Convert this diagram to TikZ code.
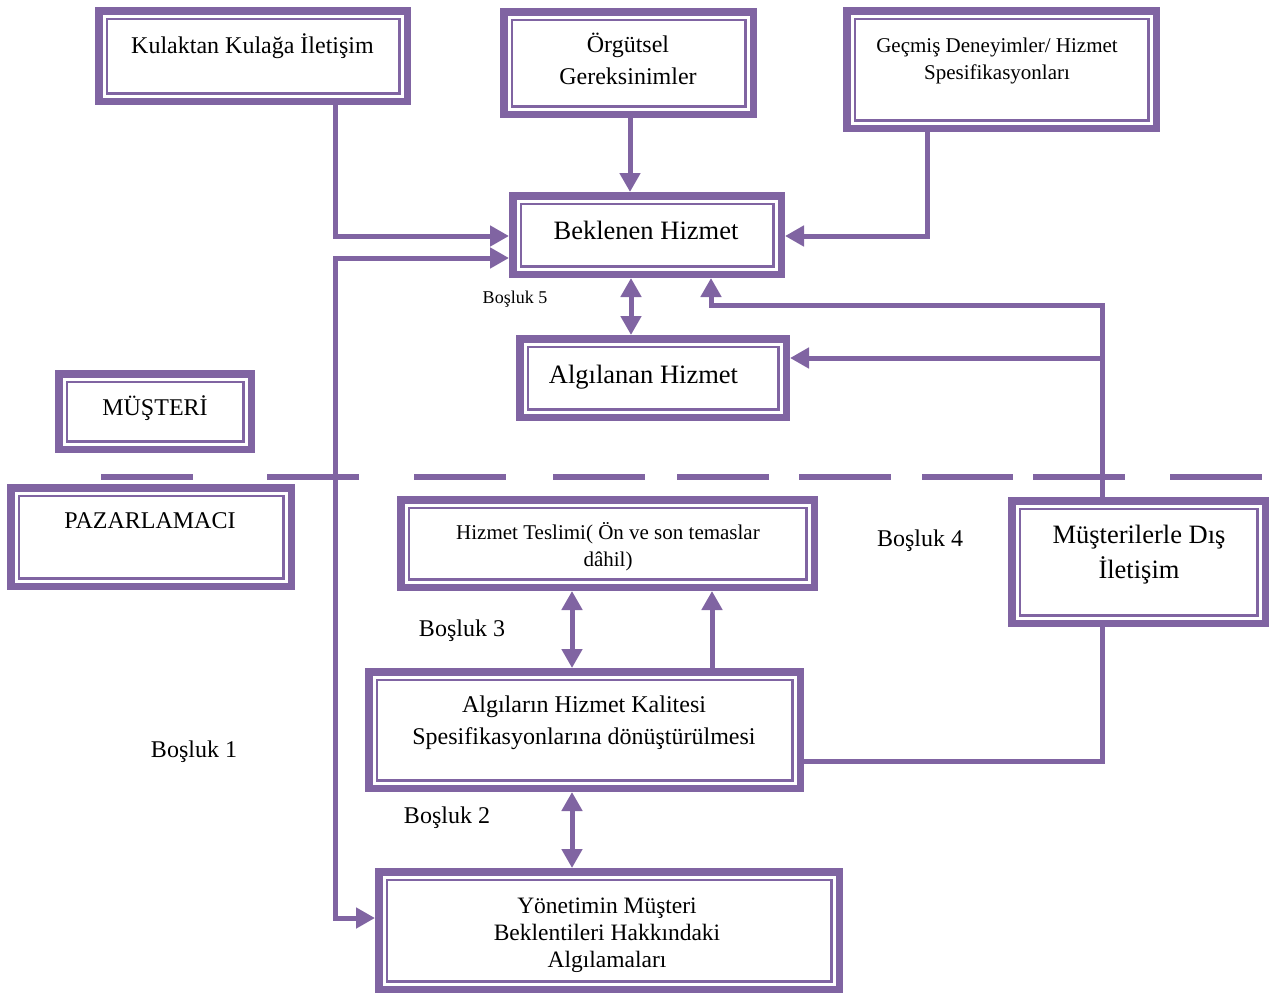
\documentclass[tikz,border=0pt]{standalone}
\usepackage{fontspec}
\setmainfont{Liberation Serif}
\usetikzlibrary{arrows.meta}
\definecolor{vio}{RGB}{128,100,162}

% framed box: thick outer rule, white gap, thin inner rule
\newcommand\boxnode[5]{%
  \node[framebox, minimum width={#4-#2-7.5}, minimum height={#5-#3-7.5}]
    (#1) at ({(#2+#4)/2},{(#3+#5)/2}) {};}

\begin{document}
\begin{tikzpicture}[x=1pt,y=-1pt,
  framebox/.style={draw=vio, line width=7.5pt, inner sep=0pt, fill=white,
    path picture={\draw[vio, line width=2.5pt]
      ([shift={(8pt,8pt)}]path picture bounding box.south west) rectangle
      ([shift={(-8pt,-8pt)}]path picture bounding box.north east);}},
  % multi-line texts are placed by the baseline of their last line
  txt/.style={align=center, anchor=base, inner sep=0pt, text=black,
    font=\fontsize{24}{32}\selectfont},
  conn/.style={draw=vio, line width=5pt},
  ah/.tip={Triangle[width=20pt,length=19pt]},
  dashseg/.style={draw=vio, line width=6.5pt},
]
\useasboundingbox (0,0) rectangle (1272,994);

% boxes
\boxnode{b1}{95}{7}{411}{105}
\boxnode{b2}{500}{8}{757}{118}
\boxnode{b3}{843}{7}{1160}{132}
\boxnode{b4}{509}{192}{785}{278}
\boxnode{b5}{516}{335}{790}{421}
\boxnode{b6}{55}{370}{255}{453}
\boxnode{b7}{7}{484}{295}{590}
\boxnode{b8}{397}{496}{818}{591}
\boxnode{b9}{1008}{497}{1269}{627}
\boxnode{b10}{365}{668}{804}{792}
\boxnode{b11}{375}{868}{843}{993}

% texts
\node[txt] (t1) at (252.5,53) {Kulaktan Kulağa İletişim};
\node[txt] (t2) at (628,84) {Örgütsel\\Gereksinimler};
\node[txt, font=\fontsize{21}{27}\selectfont] (t3) at (997,79) {Geçmiş Deneyimler/ Hizmet\\Spesifikasyonları};
\node[txt, font=\fontsize{26.5}{32}\selectfont] (t4) at (646,239) {Beklenen Hizmet};
\node[txt, font=\fontsize{26.5}{32}\selectfont] (t5) at (643.5,383) {Algılanan Hizmet};
\node[txt] (t6) at (155,415) {MÜŞTERİ};
\node[txt] (t7) at (150,528) {PAZARLAMACI};
\node[txt, font=\fontsize{21}{27}\selectfont] (t8) at (608,566) {Hizmet Teslimi( Ön ve son temaslar\\dâhil)};
\node[txt, font=\fontsize{26.5}{35}\selectfont] (t9) at (1139,578) {Müşterilerle Dış\\İletişim};
\node[txt, font=\fontsize{24}{32.5}\selectfont] (t10) at (584,744.5) {Algıların Hizmet Kalitesi\\Spesifikasyonlarına dönüştürülmesi};
\node[txt, font=\fontsize{23.5}{27}\selectfont] (t11) at (607,967) {Yönetimin Müşteri\\Beklentileri Hakkındaki\\Algılamaları};

% gap labels
\node[txt, font=\fontsize{18}{20}\selectfont] (g5) at (515,303) {Boşluk 5};
\node[txt] (g4) at (920,546) {Boşluk 4};
\node[txt] (g3) at (462,636) {Boşluk 3};
\node[txt] (g1) at (194,757) {Boşluk 1};
\node[txt] (g2) at (447,823) {Boşluk 2};

% customer / marketer divide
\foreach \a/\b in {101/193, 267/359, 414/506, 553/645, 677/769, 799/891, 922/1013, 1033/1125, 1170/1262}
  \draw[dashseg] (\a,477) -- (\b,477);

% connectors
\coordinate (j1) at (1102,358);
\draw[conn, -ah] (335,0 |- b1.south) -- (335,236) -- (b4.west |- 0,236);
\draw[conn, -ah] (630,0 |- b2.south) -- (630,0 |- b4.north);
\draw[conn, -ah] (927,0 |- b3.south) -- (927,236) -- (b4.east |- 0,236);
\draw[conn, ah-ah] (b4.west |- 0,258) -- (335,258) -- (335,918) -- (b11.west |- 0,918);
\draw[conn, ah-ah] (631,0 |- b4.south) -- (631,0 |- b5.north);
\draw[conn, -ah] (1102,0 |- b9.north) -- (1102,305) -- (711,305) -- (711,0 |- b4.south);
\draw[conn, -ah] (j1) -- (b5.east |- j1);
\draw[conn, ah-ah] (572,0 |- b8.south) -- (572,0 |- b10.north);
\draw[conn, -ah] (712,0 |- b10.north) -- (712,0 |- b8.south);
\draw[conn] (b10.east |- 0,761) -- (1102,761) -- (1102,0 |- b9.south);
\draw[conn, ah-ah] (572,0 |- b10.south) -- (572,0 |- b11.north);
\end{tikzpicture}
\end{document}
